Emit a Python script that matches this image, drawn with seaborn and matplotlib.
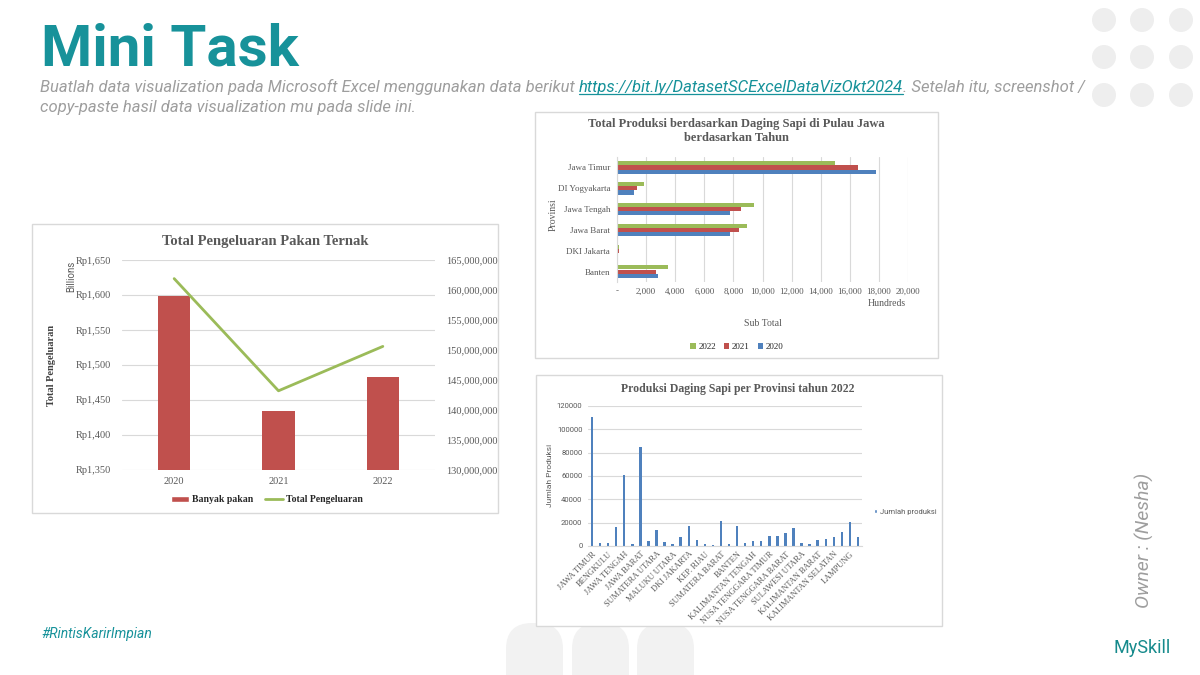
import pandas as pd
import matplotlib.pyplot as plt
import seaborn as sns
from matplotlib.patches import Rectangle, Circle, FancyBboxPatch, Patch
from matplotlib.lines import Line2D
from matplotlib.ticker import FuncFormatter, MultipleLocator

# --- data ---
tahun = ["2020", "2021", "2022"]
banyak_pakan = [1598.6, 1434.0, 1482.4]          # Rp, billions (left axis)
total_pengeluaran = [161900000, 143200000, 150600000]  # right axis

jawa_provinsi = ["Jawa Timur", "DI Yogyakarta", "Jawa Tengah", "Jawa Barat", "DKI Jakarta", "Banten"]
prod_2022 = [14960, 1830, 9415, 8910, 160, 3480]   # hundreds
prod_2021 = [16560, 1400, 8500, 8410, 110, 2660]
prod_2020 = [17820, 1190, 7770, 7770, 70, 2820]

provinsi = ["JAWA TIMUR", "ACEH", "BENGKULU", "SULAWESI SELATAN", "JAWA TENGAH", "GORONTALO",
            "JAWA BARAT", "SUMATERA SELATAN", "SUMATERA UTARA", "JAMBI", "MALUKU UTARA", "BALI",
            "DKI JAKARTA", "RIAU", "KEP. RIAU", "PAPUA BARAT", "SUMATERA BARAT", "MALUKU",
            "BANTEN", "KALIMANTAN UTARA", "KALIMANTAN TENGAH", "SULAWESI TENGAH",
            "NUSA TENGGARA TIMUR", "DI YOGYAKARTA", "NUSA TENGGARA BARAT", "SULAWESI TENGGARA",
            "SULAWESI UTARA", "SULAWESI BARAT", "KALIMANTAN BARAT", "KALIMANTAN TIMUR",
            "KALIMANTAN SELATAN", "KEP. BANGKA BELITUNG", "LAMPUNG", "PAPUA"]
produksi_2022 = [111000, 2500, 3000, 16000, 61000, 1500, 85000, 4500, 14000, 3500, 1500, 8000,
                 17000, 5500, 1500, 500, 21500, 2000, 17000, 2500, 4000, 4500, 8500, 9000,
                 11000, 15500, 3000, 1500, 5000, 6000, 7500, 12000, 21000, 7500]

# --- style ---
sns.set_style("white")
plt.rcParams["font.family"] = ["Roboto", "DejaVu Sans"]
SERIF = "Liberation Serif"
TEAL = "#17929a"
GREY_TXT = "#595959"
GRID = "#d9d9d9"
RED, GREEN, BLUE = "#c0504d", "#9bbb59", "#4f81bd"

W, H = 1200, 675
fig = plt.figure(figsize=(12, 6.75), dpi=100)


def box(l, t, r, b):
    return [l / W, 1 - b / H, (r - l) / W, (b - t) / H]


# background layer in pixel coordinates
bg = fig.add_axes([0, 0, 1, 1])
bg.set_xlim(0, W)
bg.set_ylim(H, 0)
bg.axis("off")
bg.set_zorder(-1)

# decorative dots and arches
for cx in [1104, 1142, 1181]:
    for cy in [20, 57, 95]:
        bg.add_patch(Circle((cx, cy), 12, color="#eeeeee", lw=0))
for ax0 in [506, 572, 637]:
    bg.add_patch(FancyBboxPatch((ax0, 623), 57, 80, boxstyle="round,pad=0,rounding_size=26",
                                facecolor="#f2f2f2", edgecolor="none", zorder=1))

# chart frames
for (l, t, r, b) in [(32, 224, 498, 513), (535, 112, 938, 358), (536, 375, 942, 626)]:
    bg.add_patch(Rectangle((l, t), r - l, b - t, facecolor="white", edgecolor="#d9d9d9",
                           lw=1, zorder=2))

# header
bg.text(41, 66, "Mini Task", fontsize=42, fontweight="bold", color=TEAL, va="baseline")
sub_kw = dict(fontsize=12, style="italic", color="#9e9e9e", va="baseline")
t1 = bg.text(40, 92, "Buatlah data visualization pada Microsoft Excel menggunakan data berikut ", **sub_kw)
fig.canvas.draw()
rend = fig.canvas.get_renderer()
inv = bg.transData.inverted()
x_link = inv.transform((t1.get_window_extent(rend).x1, 0))[0]
t2 = bg.text(x_link, 92, "https://bit.ly/DatasetSCExcelDataVizOkt2024", fontsize=12, style="italic",
             color=TEAL, va="baseline")
bb2 = t2.get_window_extent(rend)
x_end = inv.transform((bb2.x1, 0))[0]
bg.plot([x_link, x_end], [94, 94], color=TEAL, lw=0.9)
bg.text(x_end, 92, ". Setelah itu, screenshot /", **sub_kw)
bg.text(40, 112, "copy-paste hasil data visualization mu pada slide ini.", **sub_kw)

# footer texts
bg.text(41, 634, "#RintisKarirImpian", fontsize=10, style="italic", color=TEAL, va="center")
bg.text(1142, 648, "MySkill", fontsize=13, color="#168a8c", ha="center", va="center")
bg.text(1144, 540, "Owner : (Nesha)", fontsize=14, style="italic", color="#9e9e9e",
        rotation=90, ha="center", va="center")

# ---------------- chart 1: Total Pengeluaran Pakan Ternak ----------------
ax1 = fig.add_axes(box(122, 260, 435, 470))
df1 = pd.DataFrame({"Tahun": tahun, "Banyak pakan": banyak_pakan})
sns.barplot(data=df1, x="Tahun", y="Banyak pakan", color=RED, saturation=1, width=0.31,
            linewidth=0, ax=ax1)
ax1.set_ylim(1350, 1650)
ax1.yaxis.set_major_locator(MultipleLocator(50))
ax1.yaxis.set_major_formatter(FuncFormatter(lambda v, p: f"Rp{v:,.0f}"))
ax1.set_xlim(-0.5, 2.5)
ax1.grid(axis="y", color=GRID, lw=0.8)
ax1.set_axisbelow(True)
ax1.set_xlabel("")
ax1.set_ylabel("")
ax1.tick_params(length=0, labelsize=7.5, labelcolor=GREY_TXT)
ax1.tick_params(axis="y", pad=8)
ax1.tick_params(axis="x", pad=5)
for lab in ax1.get_xticklabels() + ax1.get_yticklabels():
    lab.set_family(SERIF)
sns.despine(ax=ax1, left=True, bottom=True)
ax1.set_facecolor("none")

ax1b = ax1.twinx()
sns.lineplot(x=tahun, y=total_pengeluaran, color=GREEN, lw=2, ax=ax1b)
ax1b.set_ylim(130000000, 165000000)
ax1b.yaxis.set_major_locator(MultipleLocator(5000000))
ax1b.yaxis.set_major_formatter(FuncFormatter(lambda v, p: f"{v:,.0f}"))
ax1b.tick_params(length=0, labelsize=7.5, labelcolor=GREY_TXT, pad=8)
for lab in ax1b.get_yticklabels():
    lab.set_family(SERIF)
ax1b.grid(False)
for s in ax1b.spines.values():
    s.set_visible(False)

bg.text(265, 241, "Total Pengeluaran Pakan Ternak", family=SERIF, fontweight="bold", fontsize=10.5,
        color=GREY_TXT, ha="center", va="center")
bg.text(71, 276, "Billions", fontsize=7, color=GREY_TXT, rotation=90, ha="center", va="center")
bg.text(51, 365, "Total Pengeluaran", family=SERIF, fontweight="bold", fontsize=7.5,
        color="#404040", rotation=90, ha="center", va="center")
h1 = [Patch(facecolor=RED), Line2D([0], [0], color=GREEN, lw=2)]
ax1.legend(h1, ["Banyak pakan", "Total Pengeluaran"], loc="center", bbox_to_anchor=(267 / W, 1 - 500 / H),
           bbox_transform=fig.transFigure, ncol=2, frameon=False, handlelength=1.9, handleheight=0.5,
           handletextpad=0.3, columnspacing=1.2, prop={"family": SERIF, "weight": "bold", "size": 7})

# ---------------- chart 2: Produksi Pulau Jawa ----------------
ax2 = fig.add_axes(box(617, 157, 908, 282))
df2 = pd.DataFrame({
    "Provinsi": jawa_provinsi * 3,
    "Nilai": prod_2022 + prod_2021 + prod_2020,
    "Tahun": ["2022"] * 6 + ["2021"] * 6 + ["2020"] * 6,
})
sns.barplot(data=df2, y="Provinsi", x="Nilai", hue="Tahun", hue_order=["2022", "2021", "2020"],
            palette={"2022": GREEN, "2021": RED, "2020": BLUE}, orient="h", width=0.6,
            saturation=1, linewidth=0, ax=ax2)
ax2.set_xlim(0, 20000)
ax2.xaxis.set_major_locator(MultipleLocator(2000))
ax2.xaxis.set_major_formatter(FuncFormatter(lambda v, p: "-" if v == 0 else f"{v:,.0f}"))
ax2.grid(axis="x", color=GRID, lw=0.8)
ax2.set_axisbelow(True)
ax2.set_xlabel("")
ax2.set_ylabel("")
ax2.tick_params(length=0, labelsize=6.5, labelcolor=GREY_TXT)
ax2.tick_params(axis="y", pad=5)
ax2.tick_params(axis="x", pad=4)
for lab in ax2.get_xticklabels() + ax2.get_yticklabels():
    lab.set_family(SERIF)
sns.despine(ax=ax2, left=False, bottom=True)
ax2.spines["left"].set_color(GRID)
ax2.set_facecolor("none")
hh, ll = ax2.get_legend_handles_labels()
ax2.legend(hh, ll, loc="center", bbox_to_anchor=(737 / W, 1 - 347 / H), bbox_transform=fig.transFigure,
           ncol=3, frameon=False, handlelength=0.6, handleheight=0.6, handletextpad=0.3,
           columnspacing=0.9, prop={"family": SERIF, "size": 6.5})
bg.text(736, 131, "Total Produksi berdasarkan Daging Sapi di Pulau Jawa\nberdasarkan Tahun", family=SERIF,
        fontweight="bold", fontsize=9, color=GREY_TXT, ha="center", va="center", linespacing=1.25)
bg.text(553, 215, "Provinsi", family=SERIF, fontsize=7, color=GREY_TXT, rotation=90, ha="center", va="center")
bg.text(763, 323, "Sub Total", family=SERIF, fontsize=7, color=GREY_TXT, ha="center", va="center")
bg.text(887, 304, "Hundreds", family=SERIF, fontsize=7, color=GREY_TXT, ha="center", va="center")

# ---------------- chart 3: Produksi per Provinsi 2022 ----------------
ax3 = fig.add_axes(box(588, 406, 862, 546))
df3 = pd.DataFrame({"Provinsi": provinsi, "Jumlah produksi": produksi_2022})
sns.barplot(data=df3, x="Provinsi", y="Jumlah produksi", color=BLUE, saturation=1, width=0.3,
            linewidth=0, ax=ax3)
ax3.set_ylim(0, 120000)
ax3.set_xlim(-0.5, len(provinsi) - 0.5)
ax3.yaxis.set_major_locator(MultipleLocator(20000))
ax3.yaxis.set_major_formatter(FuncFormatter(lambda v, p: f"{v:.0f}"))
ax3.set_xticks(range(0, len(provinsi), 2))
ax3.set_xticklabels(provinsi[::2], rotation=45, ha="right", rotation_mode="anchor",
                    family=SERIF, fontsize=6)
ax3.grid(axis="y", color=GRID, lw=0.8)
ax3.set_axisbelow(True)
ax3.set_xlabel("")
ax3.set_ylabel("")
ax3.tick_params(length=0, labelcolor=GREY_TXT)
ax3.tick_params(axis="y", labelsize=5.5, pad=4)
ax3.tick_params(axis="x", pad=3)
sns.despine(ax=ax3, left=True, bottom=False)
ax3.spines["bottom"].set_color(GRID)
ax3.set_facecolor("none")
ax3.legend([Patch(facecolor=BLUE)], ["Jumlah produksi"], loc="center", bbox_to_anchor=(905 / W, 1 - 512 / H),
           bbox_transform=fig.transFigure, frameon=False, handlelength=0.5, handleheight=0.5,
           handletextpad=0.3, fontsize=5.5, labelcolor=GREY_TXT)
bg.text(738, 389, "Produksi Daging Sapi per Provinsi tahun 2022", family=SERIF, fontweight="bold",
        fontsize=8.5, color=GREY_TXT, ha="center", va="center")
bg.text(550, 475, "Jumlah Produksi", fontsize=6, color=GREY_TXT, rotation=90, ha="center", va="center")

fig.savefig("out.png", dpi=100, facecolor="white")
